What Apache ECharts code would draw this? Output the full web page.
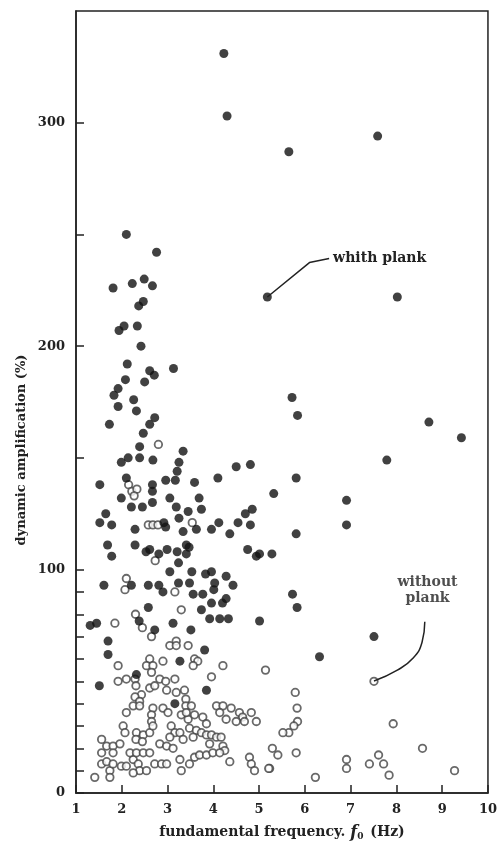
<!DOCTYPE html>
<html>
<head>
<meta charset="utf-8">
<script src="https://cdn.jsdelivr.net/npm/echarts@6/dist/echarts.min.js"></script>
<style>
html,body{margin:0;padding:0;background:#fff}
#chart{width:500px;height:846px}
</style>
</head>
<body>
<div id="chart"></div>
<script>
// tick values
var yTickValues = [0,10,20,30,40,50,60,70,80,90,100,150,200,250,300];
var yLabelValues = [0,100,200,300];

// with plank (filled dots): [f0 Hz, amplification %]
var withPlank = [
	[4.23,331],[4.30,303],[5.65,287],[7.59,294],
	[2.10,250],[2.76,242],[1.81,226],[2.23,228],[2.49,230],[2.67,227],[2.47,220],[2.37,218],[1.94,207],[2.05,209],[2.34,209],[2.42,200],[2.12,192],[2.61,189],[2.71,187],[3.13,190],[2.08,185],[2.50,184],[1.92,181],[1.83,178],[2.26,176],
	[5.18,222],[8.02,222],[5.72,177],
	[1.92,173],[2.32,171],[1.73,165],[2.72,168],[2.61,165],[2.47,161],[2.39,155],[3.34,153],[1.99,148],[2.14,150],[2.39,150],[2.68,149],[3.25,148],[3.21,144],[4.50,146],[4.81,147],[4.10,141],[1.52,138],[2.10,141],[2.67,138],[2.67,135],[2.96,140],[3.17,140],[3.59,139],[1.99,132],[5.32,134],[3.05,132],[3.69,132],[2.21,128],[2.45,128],[2.67,130],[3.19,128],[3.45,126],[3.74,127],[4.70,125],[4.85,127],[1.65,125],[1.52,121],[1.78,120],[3.25,123],[2.92,121],[2.96,119],[2.29,118],[3.34,117],[3.63,118],[3.96,118],[4.12,121],[4.54,121],[4.81,120],[4.36,116],
	[1.69,111],[1.78,106],[2.29,111],[2.53,108],[2.61,109],[2.81,107],[2.99,109],[3.21,108],[3.41,111],[3.47,110],[3.41,107],[4.75,109],[4.94,106],[5.28,107],[5.01,107],[3.24,103],[3.05,99],[3.53,99],[3.83,98],[3.96,99],[4.28,97],[1.61,93],[2.21,93],[2.58,93],[2.81,93],[2.90,90],[3.24,94],[3.48,94],[3.56,89],[3.77,89],[4.01,91],[4.03,94],[4.43,93],
	[5.84,169],[8.71,166],[9.42,159],[7.79,149],[5.81,141],[6.91,131],[6.91,120],[5.81,116],[5.73,89],[5.83,83],[5.01,77],[7.51,70],[6.32,61],
	[2.58,83],[3.74,82],[3.96,85],[4.20,85],[4.28,87],[1.31,75],[1.45,76],[2.38,77],[3.12,76],[3.92,78],[4.14,78],[4.33,78],[1.70,68],[1.70,62],[2.72,73],[3.51,73],[3.81,64],[2.32,53],[3.27,59],[1.51,48],[3.85,46],[3.16,40]
];

// without plank (open circles)
var withoutPlank = [
	[2.80,156],[2.15,138],[2.22,135],[2.33,136],[2.27,133],[3.54,121],[2.58,120],[2.68,120],[2.79,120],[2.73,104],[2.10,96],[2.07,91],[3.16,90],
	[5.14,55],[7.51,50],[5.79,45],[5.83,38],[5.84,32],[5.76,30],[5.65,27],[5.52,27],[7.93,31],[5.29,20],[5.41,17],[5.81,18],[8.57,20],[6.91,15],[6.91,11],[7.41,13],[7.61,17],[7.72,13],[7.84,8],[5.23,11],[6.23,7],[9.27,10],
	[3.30,82],[1.85,76],[2.30,80],[2.45,74],[2.65,70],[3.05,66],[3.19,68],[3.19,66],[3.45,66],[3.59,60],[3.66,59],[3.56,57],[2.61,60],[2.54,57],[2.68,57],[2.65,54],[2.90,59],[1.92,57],[4.21,57],[3.96,52],
	[1.92,50],[2.10,51],[2.29,51],[2.31,48],[2.61,47],[2.72,48],[2.83,51],[2.96,50],[3.16,51],[2.98,46],[3.19,45],[3.37,46],[2.43,44],[2.29,43],[2.39,41],[2.25,39],[2.39,39],[2.10,36],[2.68,38],[2.90,38],[3.01,36],[2.65,35],[2.65,32],[3.40,42],[3.40,39],[3.30,35],[3.45,33],[3.59,35],[3.77,34],[3.85,31],[4.07,39],[4.21,39],[4.39,38],[4.14,36],[4.28,33],[4.57,36],[4.64,34],[4.83,36],[4.94,32],[4.68,32],[4.50,32],
	[2.03,30],[2.07,27],[2.32,27],[2.47,26],[2.61,27],[2.31,24],[2.45,23],[2.68,30],[3.08,30],[3.16,27],[3.05,25],[3.27,27],[3.34,24],[3.48,29],[3.63,28],[3.74,27],[3.85,26],[3.56,25],[3.96,26],[4.07,25],[4.17,25],[3.92,22],[4.21,21],[4.25,19],[4.36,14],
	[1.56,24],[1.56,18],[1.56,13],[1.41,7],[1.67,21],[1.81,21],[1.96,22],[1.81,18],[1.74,10],[1.74,7],[1.67,14],[1.81,13],[1.99,12],[2.10,12],[2.25,15],[2.36,13],[2.18,18],[2.32,18],[2.47,18],[2.61,18],[2.39,10],[2.54,10],[2.25,9],[2.72,13],[2.87,13],[2.98,13],[2.83,22],[2.98,21],[3.12,20],[3.27,15],[3.30,10],[3.48,13],[3.59,16],[3.70,17],[3.85,17],[3.99,18],[4.14,18],[4.79,16],[4.83,13],[4.90,10],[5.21,11],[3.41,36],[3.52,39]
];

// leader lines of the two notes
var withLeader = [[5.18,222],[6.10,237.4],[6.53,239.2]];
var withoutLeader = [[8.62,76.6],[8.56,67.5],[8.36,60.3],[8.02,55.0],[7.51,50.1]];
var withoutNoteAt = [[8.68,77]];

var font = 'DejaVu Serif';
var ink = '#222';

var chart = echarts.init(document.getElementById('chart'));
var option = {
	animation: false,
	backgroundColor: '#fff',
	grid: {
		left: 76, right: 11, top: 11, bottom: 53,
		show: true, borderColor: ink, borderWidth: 1.5
	},
	xAxis: {
		type: 'value', min: 1, max: 10, interval: 1,
		name: 'fundamental frequency. {i|f}{s|0} (Hz)',
		nameLocation: 'middle', nameGap: 31,
		nameTextStyle: {
			color: ink, fontFamily: font, fontWeight: 'bold', fontSize: 14,
			rich: {
				i: {fontStyle: 'italic', fontFamily: font, fontWeight: 'bold', fontSize: 16, color: ink},
				s: {fontFamily: font, fontWeight: 'bold', fontSize: 9, color: ink, padding: [8, 2, 0, 0]}
			}
		},
		axisLine: {lineStyle: {color: ink, width: 1.5}},
		axisTick: {inside: true, length: 8, lineStyle: {color: ink, width: 1.5}},
		axisLabel: {color: ink, fontFamily: font, fontWeight: 'bold', fontSize: 13, margin: 10},
		splitLine: {show: false}
	},
	yAxis: {
		type: 'value', min: 0, max: 350,
		axisLine: {lineStyle: {color: ink, width: 1.5}},
		axisTick: {inside: true, length: 8, customValues: yTickValues, lineStyle: {color: ink, width: 1.5}},
		axisLabel: {customValues: yLabelValues, color: ink, fontFamily: font, fontWeight: 'bold', fontSize: 13, margin: 11},
		splitLine: {show: false}
	},
	graphic: [{
		type: 'text', x: 22, y: 450, rotation: Math.PI / 2,
		style: {
			text: 'dynamic amplification (%)', fill: ink,
			font: 'bold 13px "DejaVu Serif"', textAlign: 'center', textVerticalAlign: 'middle'
		}
	}],
	series: [{
		type: 'scatter', data: withoutPlank, symbol: 'circle', symbolSize: 7.5,
		itemStyle: {color: '#fff', borderColor: '#444', borderWidth: 1.8}, z: 2
	}, {
		type: 'scatter', data: withPlank, symbol: 'circle', symbolSize: 9,
		itemStyle: {color: '#111'}, z: 3
	}, {
		type: 'line', data: withLeader, symbol: 'none',
		lineStyle: {color: ink, width: 1.5},
		endLabel: {
			show: true, formatter: 'whith plank', distance: 4,
			color: ink, fontFamily: font, fontWeight: 'bold', fontSize: 14
		}, z: 4
	}, {
		type: 'line', data: withoutLeader, symbol: 'none', smooth: true,
		lineStyle: {color: ink, width: 1.5}, z: 4
	}, {
		type: 'scatter', data: withoutNoteAt, symbolSize: 1,
		itemStyle: {color: 'rgba(0,0,0,0)'},
		label: {
			show: true, position: 'top', distance: 14, formatter: 'without\nplank',
			color: ink, fontFamily: font, fontWeight: 'bold', fontSize: 14, lineHeight: 16, align: 'center'
		}, z: 4
	}]
};
chart.setOption(option);
</script>
</body>
</html>
